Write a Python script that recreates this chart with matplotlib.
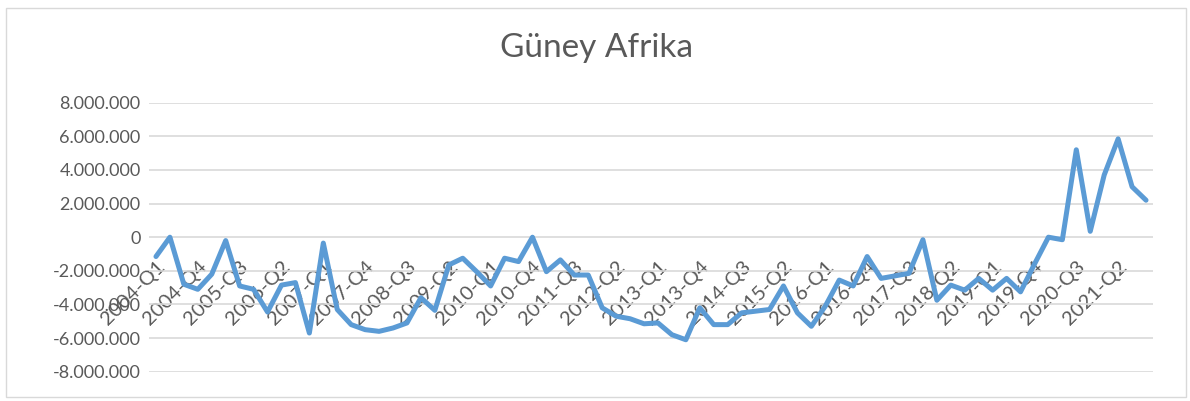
import numpy as np
import matplotlib
matplotlib.use("Agg")
import matplotlib.pyplot as plt
from matplotlib.ticker import FuncFormatter, MultipleLocator
from matplotlib.patches import Rectangle

# çeyreklik kategoriler 2004-Q1 .. 2021-Q4
years = list(range(2004, 2022))
quarters = [f"{y}-Q{q}" for y in years for q in range(1, 5)]

# Güney Afrika, milyon cinsinden
balance_mn = [
    -1.15, 0.0, -2.8, -3.1, -2.2, -0.2, -2.9, -3.1, -4.45, -2.85,
    -2.7, -5.7, -0.35, -4.3, -5.2, -5.5, -5.6, -5.4, -5.1, -3.6,
    -4.35, -1.65, -1.25, -2.05, -2.9, -1.25, -1.45, 0.0, -2.05, -1.35,
    -2.25, -2.25, -4.2, -4.7, -4.85, -5.15, -5.1, -5.8, -6.1, -4.2,
    -5.2, -5.2, -4.5, -4.4, -4.3, -2.9, -4.5, -5.3, -4.1, -2.55,
    -2.9, -1.15, -2.45, -2.3, -2.15, -0.15, -3.75, -2.85, -3.15, -2.45,
    -3.15, -2.45, -3.25, -1.6, 0.0, -0.15, 5.2, 0.35, 3.7, 5.85,
    3.0, 2.2,
]

values = np.array(balance_mn) * 1e6

plt.rcParams['font.family'] = ['Lato', 'DejaVu Sans']
gray = '#595959'

fig = plt.figure(figsize=(11.9, 4.01), dpi=100)
ax = fig.add_axes([149 / 1190, 1 - 371.7 / 401, (1153 - 149) / 1190, (371.7 - 102.7) / 401])

x = np.arange(len(quarters))
ax.plot(x, values, color='#5B9BD5', lw=3.6, solid_joinstyle='round', solid_capstyle='round')

ax.set_xlim(-0.5, len(quarters) - 0.5)
ax.set_ylim(-8e6, 8e6)
ax.yaxis.set_major_locator(MultipleLocator(2e6))
ax.yaxis.set_major_formatter(FuncFormatter(lambda v, p: f"{int(round(v)):,}".replace(",", ".")))
ax.grid(axis='y', color='#D9D9D9', lw=1.2)
ax.set_axisbelow(True)

for s in ax.spines.values():
    s.set_visible(False)
ax.spines['bottom'].set_position(('data', 0))

ax.set_xticks(x[::3])
ax.set_xticklabels(quarters[::3], rotation=45, ha='right', rotation_mode='anchor')
ax.tick_params(axis='x', length=0, pad=15, labelsize=14.5, colors=gray)
ax.tick_params(axis='y', length=0, pad=6, labelsize=13, colors=gray)

fig.text(597 / 1190, 1 - 48 / 401, "Güney Afrika", ha='center', va='center',
         fontsize=24, color=gray)

fig.patches.append(Rectangle((6 / 1190, 4 / 401), 1180 / 1190, 389 / 401,
                             transform=fig.transFigure, fill=False,
                             ec='#D9D9D9', lw=1))

fig.savefig('out.png', dpi=100)
